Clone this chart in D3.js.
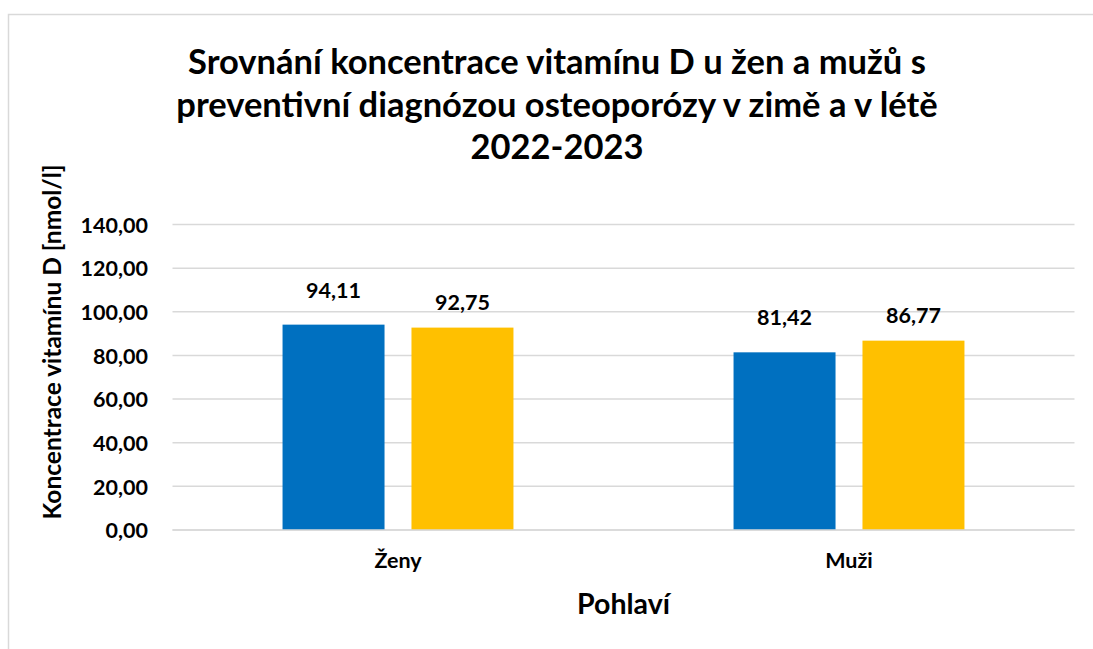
<!DOCTYPE html>
<html><head><meta charset="utf-8">
<script src="https://cdn.jsdelivr.net/npm/d3@7"></script>
<style>body{margin:0;background:#fff;}svg{display:block;}text{font-family:Lato,"Open Sans",sans-serif;font-weight:bold;fill:#000;}</style>
</head><body>
<svg id="c" width="1093" height="649"></svg>
<script>
const categories = ["Ženy", "Muži"];
const seriesNames = ["zima", "léto"];
const winter = [94.11, 81.42];
const summer = [92.75, 86.77];
const yTicks = [0, 20, 40, 60, 80, 100, 120, 140];
const titleLines = ["Srovnání koncentrace vitamínu D u žen a mužů s", "preventivní diagnózou osteoporózy v zimě a v létě", "2022-2023"];
const yTitle = "Koncentrace vitamínu D [nmol/l]";
const xTitle = "Pohlaví";

const colors = ["#0070C0", "#FFC000"];
const labelGap = [27, 18];
const svg = d3.select("#c");
const fmt = v => d3.format(".2f")(v).replace(".", ",");

svg.append("rect").attr("x", 8.5).attr("y", 14.5).attr("width", 1100).attr("height", 700)
  .attr("fill", "#fff").attr("stroke", "#d9d9d9").attr("stroke-width", 1.5);

const left = 172.5, right = 1074.5;
const y = d3.scaleLinear().domain([0, 140]).range([530, 224.5]);
const x0 = d3.scaleBand().domain(categories).range([left, right]).paddingInner(0.488).paddingOuter(0.244);
const x1 = d3.scaleBand().domain(seriesNames).range([0, x0.bandwidth()]).paddingInner(0.209);

// gridlines
svg.append("g").selectAll("line").data(yTicks).join("line")
  .attr("x1", left).attr("x2", right).attr("y1", d => y(d)).attr("y2", d => y(d))
  .attr("stroke", "#d9d9d9").attr("stroke-width", 1.5);

// y axis labels
const yAxis = d3.axisLeft(y).tickValues(yTicks).tickFormat(fmt).tickSize(0).tickPadding(0);
const ga = svg.append("g").attr("transform", "translate(148,0)").call(yAxis);
ga.select(".domain").remove();
ga.selectAll("text").style("font-size", "21.5px").attr("font-family", null).attr("dy", "0.36em");

// bars
const data = categories.map((c, i) => ({cat: c, vals: [winter[i], summer[i]]}));
const groups = svg.append("g").selectAll("g").data(data).join("g")
  .attr("transform", d => `translate(${x0(d.cat)},0)`);
groups.selectAll("rect").data(d => d.vals.map((v, j) => ({s: seriesNames[j], v, j}))).join("rect")
  .attr("x", d => x1(d.s)).attr("width", x1.bandwidth())
  .attr("y", d => y(d.v)).attr("height", d => y(0) - y(d.v))
  .attr("fill", d => colors[d.j]);
groups.selectAll("text").data(d => d.vals.map((v, j) => ({s: seriesNames[j], v, j}))).join("text")
  .attr("x", d => x1(d.s) + x1.bandwidth() / 2).attr("y", d => y(d.v) - labelGap[d.j])
  .attr("text-anchor", "middle").style("font-size", "21.5px").text(d => fmt(d.v));

// x axis line
svg.append("line").attr("x1", left).attr("x2", right).attr("y1", y(0)).attr("y2", y(0))
  .attr("stroke", "#d9d9d9").attr("stroke-width", 1.5);

// category labels
svg.append("g").selectAll("text").data(categories).join("text")
  .attr("x", d => x0(d) + x0.bandwidth() / 2).attr("y", 568)
  .attr("text-anchor", "middle").style("font-size", "21.5px").text(d => d);

// axis titles
svg.append("text").attr("x", (left + right) / 2).attr("y", 614).attr("text-anchor", "middle")
  .style("font-size", "28.5px").text(xTitle);
svg.append("text").attr("transform", "translate(61,342) rotate(-90)").attr("text-anchor", "middle")
  .style("font-size", "24.5px").text(yTitle);

// title
svg.append("g").selectAll("text").data(titleLines).join("text")
  .attr("x", 557).attr("y", (d, i) => 74 + i * 42.5).attr("text-anchor", "middle")
  .style("font-size", "34.5px").text(d => d);
</script>
</body></html>
